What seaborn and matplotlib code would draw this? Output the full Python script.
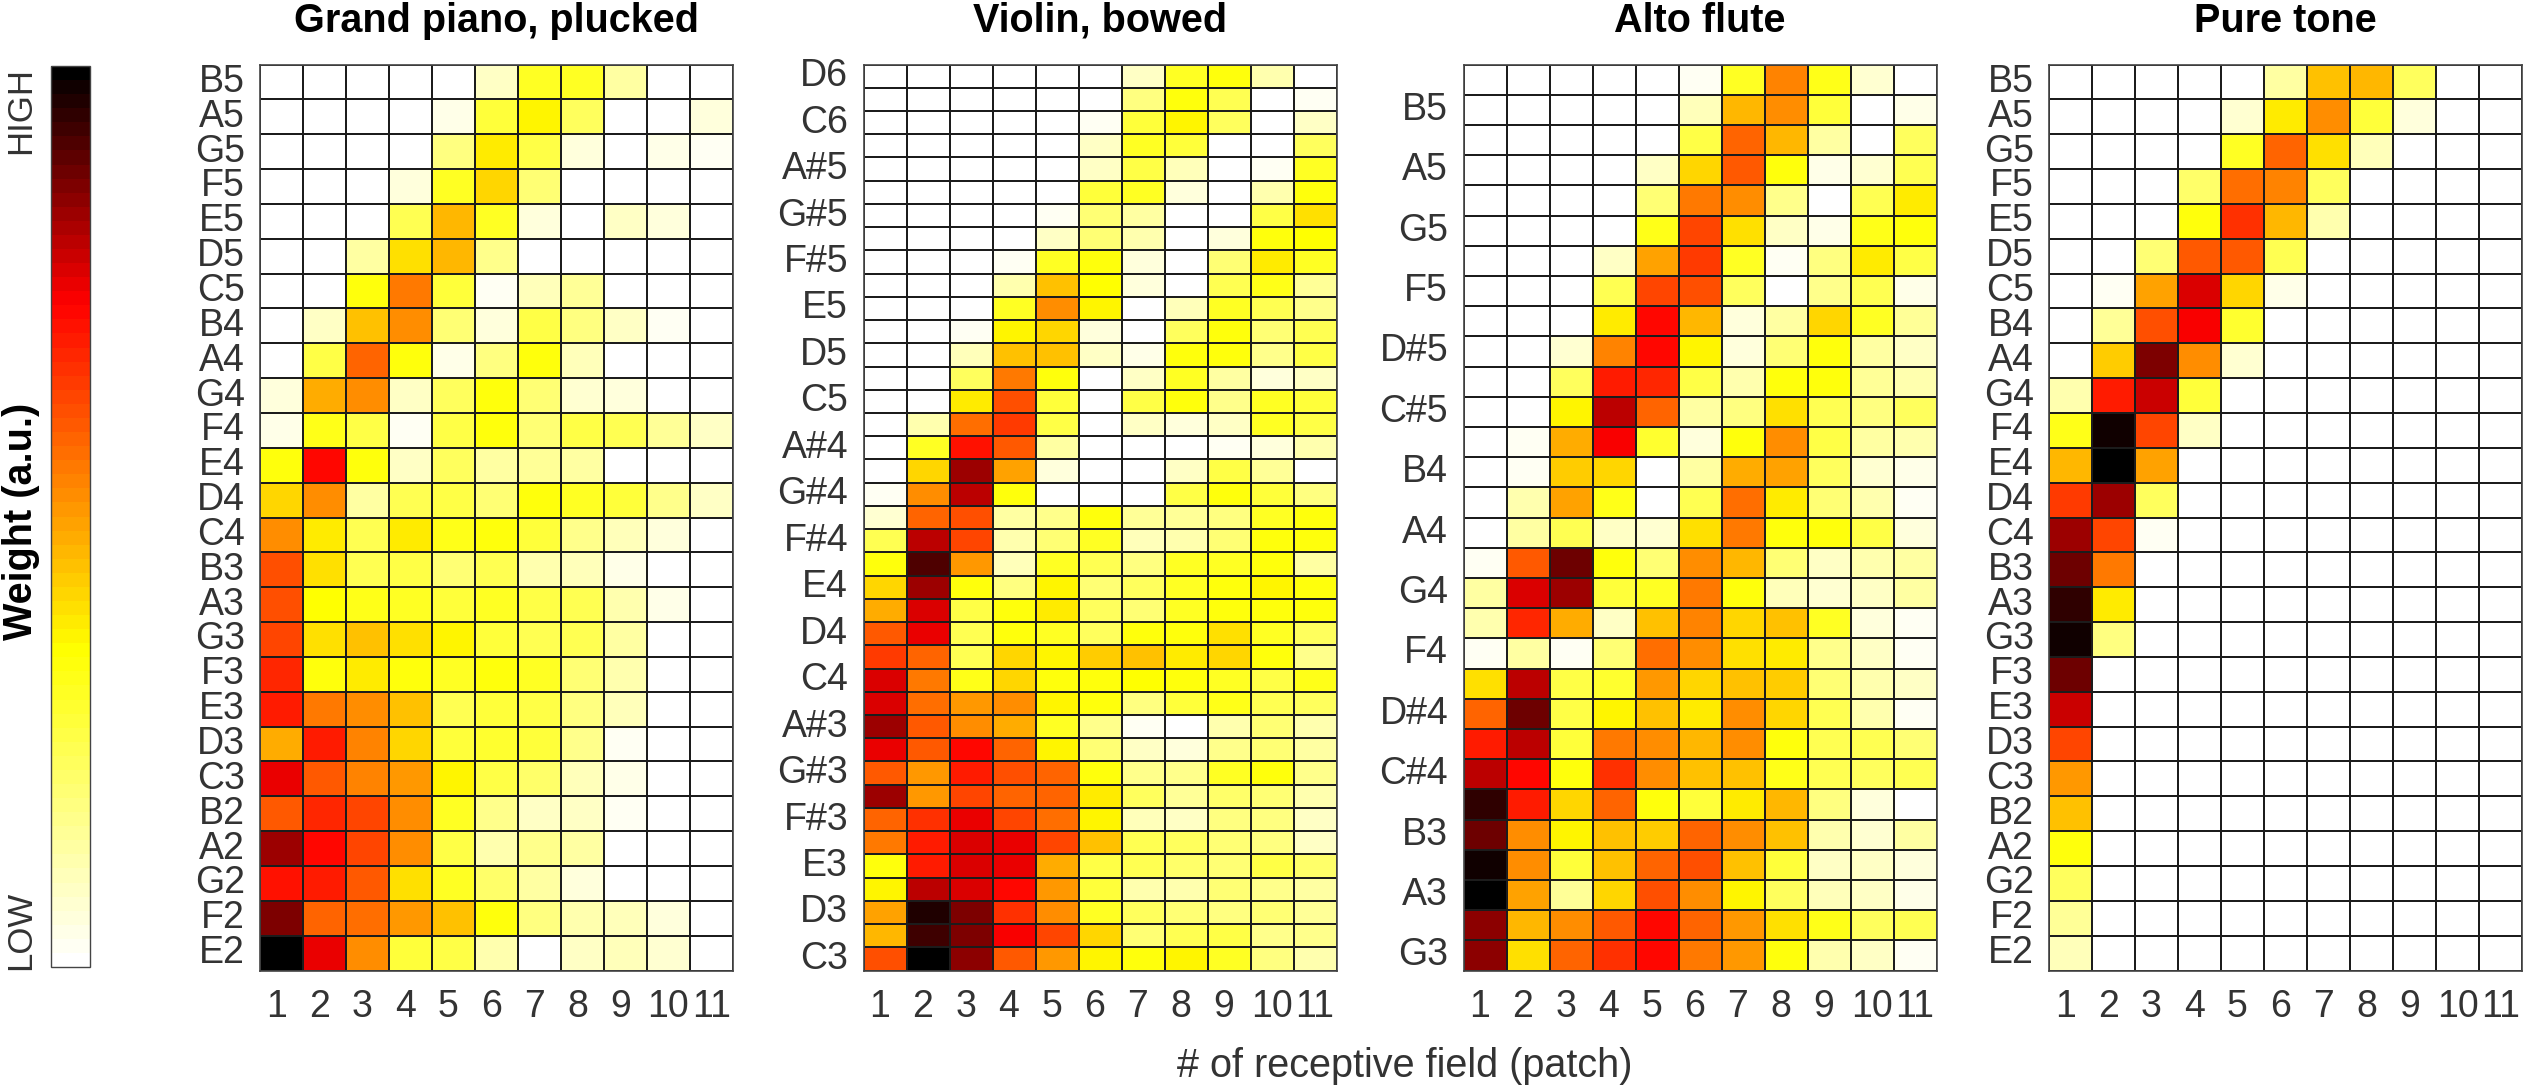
import numpy as np
import pandas as pd
import matplotlib
matplotlib.use('Agg')
import matplotlib.pyplot as plt
import seaborn as sns
from matplotlib.colors import LinearSegmentedColormap

patches = [str(i) for i in range(1, 12)]

piano_notes = ['B5','A5','G5','F5','E5','D5','C5','B4','A4','G4','F4','E4','D4','C4',
               'B3','A3','G3','F3','E3','D3','C3','B2','A2','G2','F2','E2']
violin_notes = ['D6','C#6','C6','B5','A#5','A5','G#5','G5','F#5','F5','E5','D#5','D5','C#5',
                'C5','B4','A#4','A4','G#4','G4','F#4','F4','E4','D#4','D4','C#4','C4','B3',
                'A#3','A3','G#3','G3','F#3','F3','E3','D#3','D3','C#3','C3']
flute_notes = ['C6','B5','A#5','A5','G#5','G5','F#5','F5','E5','D#5','D5','C#5','C5','B4',
               'A#4','A4','G#4','G4','F#4','F4','E4','D#4','D4','C#4','C4','B3','A#3','A3',
               'G#3','G3']

# weights, 0 = white, 100 = black
piano = [
    [0,0,0,0,0,9,30,30,14,0,0],
    [0,0,0,0,4,28,36,22,0,0,5],
    [0,0,0,0,18,38,26,6,0,4,3],
    [0,0,0,6,31,42,20,0,0,0,0],
    [0,0,0,24,46,30,6,0,8,5,0],
    [0,0,14,40,46,16,0,0,0,0,0],
    [0,0,33,55,28,3,10,15,0,0,0],
    [0,9,44,52,20,6,25,18,8,3,0],
    [0,26,59,33,4,18,33,10,0,0,0],
    [5,47,53,9,22,34,20,7,5,0,0],
    [4,32,26,2,25,33,20,26,24,15,8],
    [33,72,33,8,22,13,15,13,0,0,0],
    [42,53,13,24,26,20,34,30,28,16,8],
    [52,38,24,38,32,33,28,16,10,6,0],
    [62,40,24,26,20,24,12,10,4,0,0],
    [62,35,32,31,28,30,26,24,12,4,0],
    [64,40,44,40,36,28,24,24,13,0,0],
    [68,34,38,33,30,33,30,20,11,0,0],
    [70,56,52,45,24,28,26,18,10,0,0],
    [47,70,54,42,27,29,28,16,3,0,0],
    [76,60,54,50,37,26,21,10,4,0,0],
    [60,68,64,52,30,17,8,9,3,0,0],
    [84,73,64,53,26,12,16,13,0,0,0],
    [71,70,60,40,30,21,14,5,0,0,0],
    [87,58,57,50,44,33,18,11,10,5,0],
    [100,76,52,27,26,11,0,8,10,7,0],
]
violin = [
    [0,0,0,0,0,0,8,30,33,12,0],
    [0,0,0,0,0,0,18,33,24,0,3],
    [0,0,0,0,0,3,28,37,22,0,9],
    [0,0,0,0,0,8,30,27,0,0,22],
    [0,0,0,0,0,8,25,10,0,3,30],
    [0,0,0,0,0,27,31,6,0,11,33],
    [0,0,0,0,3,20,14,0,0,25,40],
    [0,0,0,0,9,20,11,0,6,33,35],
    [0,0,0,2,31,33,6,0,20,38,30],
    [0,0,0,12,44,35,5,0,24,32,15],
    [0,0,0,30,52,36,0,10,30,24,16],
    [0,0,3,36,42,6,0,22,34,20,24],
    [0,0,10,45,44,8,4,33,33,17,26],
    [0,0,22,55,33,0,9,30,13,5,8],
    [0,0,38,62,27,0,25,33,17,31,28],
    [0,12,57,65,26,0,8,6,9,30,25],
    [0,30,71,60,13,0,0,0,3,6,11],
    [0,42,83,49,5,0,0,8,26,15,0],
    [2,53,80,34,0,0,0,26,33,28,18],
    [7,58,62,13,16,34,15,15,18,30,33],
    [24,80,64,12,20,31,10,11,20,33,33],
    [33,92,50,10,30,24,18,30,31,33,14],
    [42,84,34,18,36,20,22,30,33,37,34],
    [48,77,25,33,38,22,20,30,33,33,33],
    [60,76,24,33,30,23,34,34,40,31,22],
    [65,59,24,42,37,43,45,38,41,34,16],
    [78,56,32,42,33,33,35,34,31,26,32],
    [78,57,50,53,37,33,18,27,32,24,22],
    [83,60,53,48,30,16,2,0,11,19,11],
    [76,60,72,58,37,19,9,5,17,20,13],
    [60,51,69,62,59,33,17,17,30,34,16],
    [84,51,63,59,58,38,22,15,21,19,11],
    [58,67,75,64,57,36,10,9,18,18,9],
    [55,69,77,76,63,45,24,22,19,18,8],
    [33,70,77,76,47,25,24,21,20,25,21],
    [37,80,78,72,50,27,12,11,19,17,14],
    [49,96,86,66,53,31,22,19,18,20,15],
    [46,93,86,74,63,41,20,24,25,16,16],
    [62,100,85,60,50,36,33,36,30,18,11],
]
flute = [
    [0,0,0,0,0,3,30,54,32,7,0],
    [0,0,0,0,0,10,46,52,27,0,4],
    [0,0,0,0,0,26,58,46,14,0,22],
    [0,0,0,0,8,42,60,33,4,7,24],
    [0,0,0,0,20,56,53,16,0,24,38],
    [0,0,0,0,32,63,40,8,4,32,34],
    [0,0,0,8,49,65,30,2,18,38,25],
    [0,0,0,24,63,62,22,0,17,24,4],
    [0,0,0,38,73,46,6,13,41,30,15],
    [0,0,7,54,72,36,5,20,33,14,8],
    [0,0,22,69,68,25,11,34,33,15,11],
    [0,0,36,80,58,13,18,40,24,18,22],
    [0,3,48,74,29,6,33,52,26,14,11],
    [0,3,43,41,1,14,47,49,22,7,4],
    [0,12,49,32,0,24,57,38,20,11,3],
    [0,13,24,9,7,40,55,33,34,25,5],
    [2,60,88,33,20,52,46,20,9,11,14],
    [14,78,84,28,31,56,33,10,7,9,13],
    [11,68,48,8,44,54,41,44,30,6,3],
    [3,13,3,20,57,52,40,38,17,9,2],
    [40,80,26,29,50,41,44,43,20,11,8],
    [58,89,25,36,45,38,52,41,24,11,2],
    [70,80,27,56,52,46,52,33,24,24,20],
    [80,73,33,67,52,45,45,32,24,22,24],
    [94,70,41,59,33,28,38,46,18,5,0],
    [88,53,36,44,43,58,53,44,11,7,13],
    [97,53,28,45,59,62,45,27,8,8,5],
    [100,49,15,41,62,52,36,22,10,9,4],
    [85,46,52,60,72,58,50,40,32,22,24],
    [85,40,58,66,73,55,50,33,11,9,3],
]
pure = [
    [0,0,0,0,0,13,44,46,22,0,0],
    [0,0,0,0,7,38,52,28,6,0,0],
    [0,0,0,0,30,58,40,10,0,0,0],
    [0,0,0,21,57,54,22,0,0,0,0],
    [0,0,0,33,66,46,12,0,0,0,0],
    [0,0,20,60,60,24,0,0,0,0,0],
    [0,3,49,78,42,4,0,0,0,0,0],
    [0,15,62,74,29,0,0,0,0,0,0],
    [0,43,87,53,7,0,0,0,0,0,0],
    [12,70,79,27,0,0,0,0,0,0,0],
    [32,98,64,9,0,0,0,0,0,0,0],
    [46,100,49,0,0,0,0,0,0,0,0],
    [65,84,22,0,0,0,0,0,0,0,0],
    [84,64,3,0,0,0,0,0,0,0,0],
    [89,56,0,0,0,0,0,0,0,0,0],
    [94,38,0,0,0,0,0,0,0,0,0],
    [97,18,0,0,0,0,0,0,0,0,0],
    [88,0,0,0,0,0,0,0,0,0,0],
    [79,0,0,0,0,0,0,0,0,0,0],
    [64,0,0,0,0,0,0,0,0,0,0],
    [50,0,0,0,0,0,0,0,0,0,0],
    [44,0,0,0,0,0,0,0,0,0,0],
    [33,0,0,0,0,0,0,0,0,0,0],
    [22,0,0,0,0,0,0,0,0,0,0],
    [15,0,0,0,0,0,0,0,0,0,0],
    [10,0,0,0,0,0,0,0,0,0,0],
]

sns.set_style('white')
plt.rcParams['font.family'] = ['Liberation Sans', 'DejaVu Sans']

W, H = 2529, 1091
cmap = LinearSegmentedColormap.from_list(
    'hot_white', [(0, 'white'), (0.35, '#ffff00'), (0.74, '#ff0000'), (1, 'black')], N=64)


def px_axes(fig, x0, x1, y0, y1):
    return fig.add_axes([x0 / W, 1 - y1 / H, (x1 - x0) / W, (y1 - y0) / H])


fig = plt.figure(figsize=(W / 100, H / 100), dpi=100)

panels = [
    ('Grand piano, plucked', piano, piano_notes, 260, 1),
    ('Violin, bowed', violin, violin_notes, 863.5, 2),
    ('Alto flute', flute, flute_notes, 1463.5, 2),
    ('Pure tone', pure, piano_notes, 2049, 1),
]

cax = px_axes(fig, 51, 90, 66, 967)
cbar = None

for i, (title, values, notes, left, step) in enumerate(panels):
    ax = px_axes(fig, left, left + 473, 64.5, 970.5)
    df = pd.DataFrame(values, index=notes, columns=patches)
    if i == 0:
        sns.heatmap(df, ax=ax, cmap=cmap, vmin=0, vmax=100, linewidths=1.3, linecolor='#1c1c1c',
                    cbar_ax=cax, cbar_kws={'ticks': [14.3, 29.1, 43.9, 58.6, 73.4, 88]})
        cbar = ax.collections[0].colorbar
    else:
        sns.heatmap(df, ax=ax, cmap=cmap, vmin=0, vmax=100, linewidths=1.3, linecolor='#1c1c1c',
                    cbar=False)
    for sp in ax.spines.values():
        sp.set_visible(True)
        sp.set_linewidth(1.2)
        sp.set_color('#444444')

    # labels sit every "step" rows counted from the bottom note
    rows = np.arange(len(notes))[::-1][::step]
    ax.set_yticks(rows + 0.5)
    ax.set_yticklabels([notes[r] for r in rows], rotation=0, fontsize=27, color='#333333')
    xt = np.arange(11) + 0.5
    xt[:9] -= 0.12
    ax.set_xticks(xt)
    ax.set_xticklabels(patches, rotation=0, fontsize=27, color='#333333')
    ax.tick_params(axis='y', length=0, pad=11)
    ax.tick_params(axis='x', length=0, pad=13)
    ax.set_xlabel('')
    ax.set_ylabel('')
    fig.text((left + 236.5) / W, 1 - 32 / H, title, ha='center', va='baseline',
             fontsize=28.5, fontweight='bold', color='black')

cbar.set_ticklabels([])
cbar.ax.tick_params(axis='y', direction='in', length=7, width=1, color='#333333', right=True)
cbar.outline.set_visible(True)
cbar.outline.set_edgecolor('#444444')
cbar.outline.set_linewidth(1)

fig.text(21 / W, 1 - 110 / H, 'HIGH', rotation=90, ha='center', va='center', fontsize=25, color='#333333')
fig.text(21 / W, 1 - 930 / H, 'LOW', rotation=90, ha='center', va='center', fontsize=25, color='#333333')
fig.text(21 / W, 1 - 521 / H, 'Weight (a.u.)', rotation=90, ha='center', va='center',
         fontsize=28.5, fontweight='bold', color='black')
fig.text(1405 / W, 1 - 1066 / H, '# of receptive field (patch)', ha='center', va='center',
         fontsize=28.5, color='#333333')

fig.savefig('out.png', dpi=100)
